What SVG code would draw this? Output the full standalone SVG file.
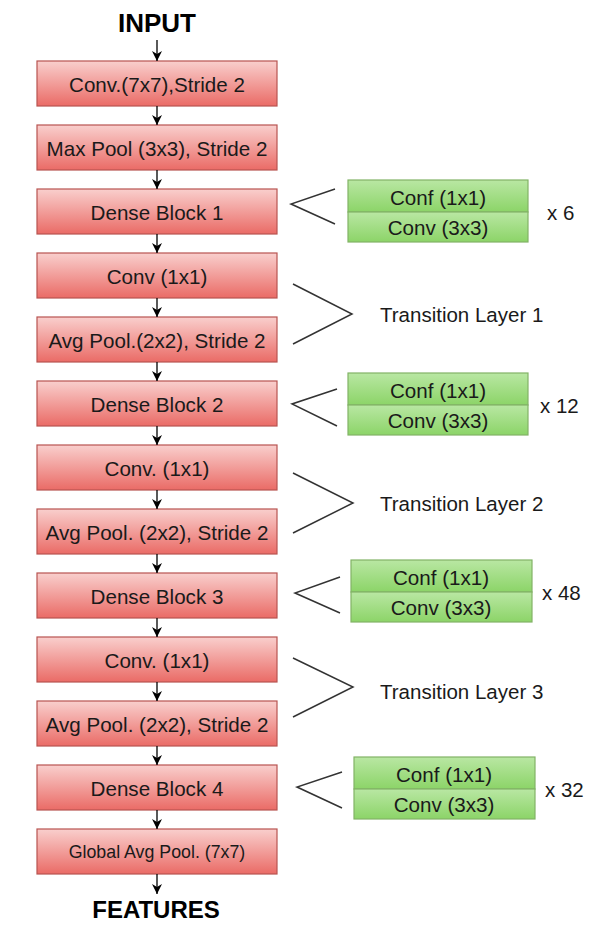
<svg xmlns="http://www.w3.org/2000/svg" width="600" height="927" viewBox="0 0 600 927">
  <defs>
    <linearGradient id="redFill" x1="0" y1="0" x2="0" y2="1">
      <stop offset="0" stop-color="#f9cfcd"/>
      <stop offset="1" stop-color="#ea6b66"/>
    </linearGradient>
    <linearGradient id="greenFill" x1="0" y1="0" x2="0" y2="1">
      <stop offset="0" stop-color="#b9e7a3"/>
      <stop offset="1" stop-color="#8cd468"/>
    </linearGradient>
    <marker id="arrow" viewBox="0 0 10 10" refX="10" refY="5" markerWidth="10" markerHeight="10" markerUnits="userSpaceOnUse" orient="auto">
      <path d="M0,0 L10,5 L0,10 L3,5 Z" fill="#000"/>
    </marker>
    <style>
      .box { fill: url(#redFill); stroke: #b85450; stroke-width: 1.2; }
      .cell { fill: url(#greenFill); stroke: #82b366; stroke-width: 1.2; }
      .lbl { font-family: "Liberation Sans", Arial, Helvetica, sans-serif; font-size: 20.6px; fill: #1a1a1a; text-anchor: middle; }
      .side { font-family: "Liberation Sans", Arial, Helvetica, sans-serif; font-size: 20.5px; fill: #1a1a1a; }
      .small { font-size: 17.8px; }
      .title { font-family: "Liberation Sans", Arial, sans-serif; font-weight: bold; fill: #000; text-anchor: middle; }
      .edge { stroke: #000; stroke-width: 1.3; fill: none; marker-end: url(#arrow); }
      .brace { stroke: #333; stroke-width: 1.5; fill: none; }
    </style>
  </defs>

  <rect width="600" height="927" fill="#fff"/>

  <!-- terminal labels -->
  <text id="input" class="title" x="157" y="32" font-size="26">INPUT</text>
  <text id="features" class="title" x="156" y="918" font-size="24">FEATURES</text>

  <!-- main column -->
  <g id="conv7x7"><rect class="box" x="37" y="61" width="240" height="45"/><text class="lbl" x="157" y="91.5">Conv.(7x7),Stride 2</text></g>
  <g id="maxpool"><rect class="box" x="37" y="125" width="240" height="45"/><text class="lbl" x="157" y="155.5">Max Pool (3x3), Stride 2</text></g>
  <g id="dense1"><rect class="box" x="37" y="189" width="240" height="45"/><text class="lbl" x="157" y="219.5">Dense Block 1</text></g>
  <g id="trans1conv"><rect class="box" x="37" y="253" width="240" height="45"/><text class="lbl" x="157" y="283.5">Conv (1x1)</text></g>
  <g id="trans1pool"><rect class="box" x="37" y="317" width="240" height="45"/><text class="lbl" x="157" y="347.5">Avg Pool.(2x2), Stride 2</text></g>
  <g id="dense2"><rect class="box" x="37" y="381" width="240" height="45"/><text class="lbl" x="157" y="411.5">Dense Block 2</text></g>
  <g id="trans2conv"><rect class="box" x="37" y="445" width="240" height="45"/><text class="lbl" x="157" y="475.5">Conv. (1x1)</text></g>
  <g id="trans2pool"><rect class="box" x="37" y="509" width="240" height="45"/><text class="lbl" x="157" y="539.5">Avg Pool. (2x2), Stride 2</text></g>
  <g id="dense3"><rect class="box" x="37" y="573" width="240" height="45"/><text class="lbl" x="157" y="603.5">Dense Block 3</text></g>
  <g id="trans3conv"><rect class="box" x="37" y="637" width="240" height="45"/><text class="lbl" x="157" y="667.5">Conv. (1x1)</text></g>
  <g id="trans3pool"><rect class="box" x="37" y="701" width="240" height="45"/><text class="lbl" x="157" y="731.5">Avg Pool. (2x2), Stride 2</text></g>
  <g id="dense4"><rect class="box" x="37" y="765" width="240" height="45"/><text class="lbl" x="157" y="795.5">Dense Block 4</text></g>
  <g id="globalpool"><rect class="box" x="37" y="829" width="240" height="45"/><text class="lbl small" x="157" y="857.5">Global Avg Pool. (7x7)</text></g>

  <!-- dense block contents -->
  <g id="dense1-layers">
    <rect class="cell" x="348" y="180" width="180" height="32"/>
    <rect class="cell" x="348" y="212" width="180" height="30"/>
    <text class="lbl" x="438" y="204.5">Conf (1x1)</text>
    <text class="lbl" x="438" y="235">Conv (3x3)</text>
    <text class="side" x="547" y="220">x 6</text>
  </g>
  <g id="dense2-layers">
    <rect class="cell" x="348" y="373" width="180" height="32"/>
    <rect class="cell" x="348" y="405" width="180" height="30"/>
    <text class="lbl" x="438" y="397.5">Conf (1x1)</text>
    <text class="lbl" x="438" y="428">Conv (3x3)</text>
    <text class="side" x="540" y="413">x 12</text>
  </g>
  <g id="dense3-layers">
    <rect class="cell" x="351" y="560" width="181" height="32"/>
    <rect class="cell" x="351" y="592" width="181" height="30"/>
    <text class="lbl" x="441" y="584.5">Conf (1x1)</text>
    <text class="lbl" x="441" y="615">Conv (3x3)</text>
    <text class="side" x="542" y="600">x 48</text>
  </g>
  <g id="dense4-layers">
    <rect class="cell" x="354" y="757" width="181" height="32"/>
    <rect class="cell" x="354" y="789" width="181" height="30"/>
    <text class="lbl" x="444" y="781.5">Conf (1x1)</text>
    <text class="lbl" x="444" y="812">Conv (3x3)</text>
    <text class="side" x="545" y="797">x 32</text>
  </g>

  <!-- transition labels -->
  <g id="transition1"><text class="side" x="380" y="322">Transition Layer 1</text></g>
  <g id="transition2"><text class="side" x="380" y="511">Transition Layer 2</text></g>
  <g id="transition3"><text class="side" x="380" y="699">Transition Layer 3</text></g>

  <!-- connectors and grouping brackets -->
  <g id="connectors">
    <line class="edge" x1="157" y1="40" x2="157" y2="61"/>
    <line class="edge" x1="157" y1="106" x2="157" y2="125"/>
    <line class="edge" x1="157" y1="170" x2="157" y2="189"/>
    <line class="edge" x1="157" y1="234" x2="157" y2="253"/>
    <line class="edge" x1="157" y1="298" x2="157" y2="317"/>
    <line class="edge" x1="157" y1="362" x2="157" y2="381"/>
    <line class="edge" x1="157" y1="426" x2="157" y2="445"/>
    <line class="edge" x1="157" y1="490" x2="157" y2="509"/>
    <line class="edge" x1="157" y1="554" x2="157" y2="573"/>
    <line class="edge" x1="157" y1="618" x2="157" y2="637"/>
    <line class="edge" x1="157" y1="682" x2="157" y2="701"/>
    <line class="edge" x1="157" y1="746" x2="157" y2="765"/>
    <line class="edge" x1="157" y1="810" x2="157" y2="829"/>
    <line class="edge" x1="157" y1="874" x2="157" y2="894"/>

    <polyline class="brace" points="335,189 291,204 335,224"/>
    <polyline class="brace" points="337,389 292,404 337,426"/>
    <polyline class="brace" points="340,577 295,593 340,613"/>
    <polyline class="brace" points="342,772 297,787 342,808"/>

    <polyline class="brace" points="293,284 352,314 293,344"/>
    <polyline class="brace" points="293,473 353,503 293,533"/>
    <polyline class="brace" points="293,658 353,687 293,717"/>
  </g>
</svg>
